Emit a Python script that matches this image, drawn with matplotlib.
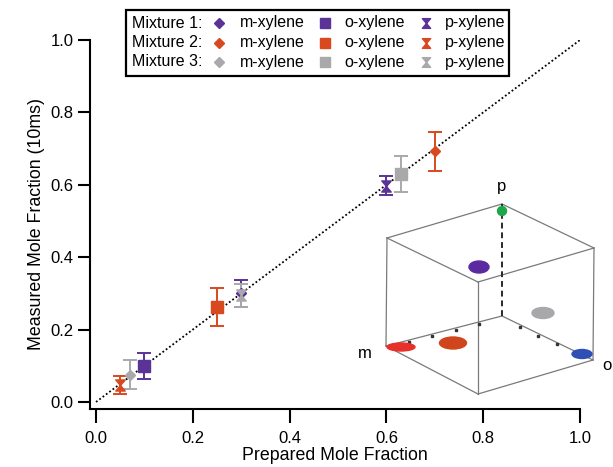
#!/usr/bin/env python3
import matplotlib
matplotlib.use("Agg")
import matplotlib.pyplot as plt
from matplotlib.path import Path
from matplotlib.patches import Ellipse, Rectangle

plt.rcParams["font.family"] = ["Liberation Sans", "DejaVu Sans"]

# data: prepared fraction, measured fraction, error (rows = mixtures, cols = species)
mixtures = ["Mixture 1:", "Mixture 2:", "Mixture 3:"]
species = ["m-xylene", "o-xylene", "p-xylene"]
colors = ["#5b3296", "#d8491f", "#a9a9ab"]

prepared = [
    [0.30, 0.10, 0.60],
    [0.70, 0.25, 0.05],
    [0.07, 0.63, 0.30],
]
measured = [
    [0.300, 0.100, 0.598],
    [0.692, 0.263, 0.047],
    [0.075, 0.630, 0.295],
]
errors = [
    [0.038, 0.036, 0.027],
    [0.055, 0.053, 0.025],
    [0.040, 0.050, 0.032],
]
xticks = [0.0, 0.2, 0.4, 0.6, 0.8, 1.0]
yticks = [0.0, 0.2, 0.4, 0.6, 0.8, 1.0]

# inset cube (figure pixel coordinates)
cube = {
    "tbl": (387, 238), "tbr": (502, 204), "tfr": (594, 248), "tfl": (478, 282),
    "bbl": (386, 346), "bbr": (502, 316), "bfr": (593, 360), "bfl": (478, 394),
}
cube_edges = [("tbl", "tbr"), ("tbr", "tfr"), ("tfr", "tfl"), ("tfl", "tbl"),
              ("tbl", "bbl"), ("tfl", "bfl"), ("tfr", "bfr"),
              ("bbl", "bfl"), ("bfl", "bfr"), ("bbl", "bbr"), ("bbr", "bfr")]
clusters = [
    # x, y, width, height, colour
    (502, 211, 9, 9, "#1fa64a"),
    (479, 267, 20, 12, "#5b2aa0"),
    (543, 313, 22, 11, "#a8a8aa"),
    (401, 347, 28, 8, "#e8302a"),
    (453, 343, 27, 12, "#d0461c"),
    (582, 354, 20, 9, "#2f4fb5"),
]
corner_labels = [("p", 502, 186), ("m", 365, 354), ("o", 607, 366)]
axis_ticks_m = [0.2, 0.4, 0.6, 0.8]
axis_ticks_o = [0.2, 0.4, 0.6, 0.8]

hourglass = Path([(-0.85, 1), (0.85, 1), (-0.85, -1), (0.85, -1), (-0.85, 1)],
                 [Path.MOVETO, Path.LINETO, Path.LINETO, Path.LINETO, Path.CLOSEPOLY])
markers = ["D", "s", hourglass]
msizes = [5.5, 8, 8]

fig = plt.figure(figsize=(6.13, 4.67), dpi=100)
ax = fig.add_axes([90 / 613, 58 / 467, 490 / 613, 369 / 467])

ax.plot([0, 1], [0, 1], color="black", linestyle=(0, (1, 1.3)), linewidth=1.3, zorder=1)

for i in range(3):
    for j in range(3):
        ax.errorbar(prepared[i][j], measured[i][j], yerr=errors[i][j],
                    marker=markers[j], markersize=msizes[j], color=colors[i],
                    ecolor=colors[i], elinewidth=1.4, capsize=5, capthick=1.4,
                    linestyle="none", zorder=3)

ax.set_xlim(-0.0124, 1.0)
ax.set_ylim(-0.0194, 1.0)
ax.set_xticks(xticks)
ax.set_yticks(yticks)
ax.set_xticklabels([f"{t:.1f}" for t in xticks])
ax.set_yticklabels([f"{t:.1f}" for t in yticks])
for s in ["top", "right"]:
    ax.spines[s].set_visible(False)
for s in ["left", "bottom"]:
    ax.spines[s].set_linewidth(1.5)
ax.tick_params(axis="x", direction="out", length=10, width=1.5, pad=6, labelsize=12)
ax.tick_params(axis="y", direction="out", length=9, width=1.5, pad=3, labelsize=12)
ax.set_xlabel("Prepared Mole Fraction", fontsize=12.8, labelpad=0.5)
ax.set_ylabel("Measured Mole Fraction (10ms)", fontsize=12.8, labelpad=4)

# overlay axes in pixel coordinates for the legend box and the inset cube
ov = fig.add_axes([0, 0, 1, 1], facecolor="none")
ov.set_xlim(0, 613)
ov.set_ylim(467, 0)
ov.axis("off")

# legend
leg_rows = [23, 42.5, 62]
leg_marker_x = [219, 325, 426]
leg_text_x = [240, 344, 445]
leg_msizes = [5, 7, 7]
ov.add_patch(Rectangle((126, 10), 383, 66, fill=False, edgecolor="black", linewidth=1.6))
for i, y in enumerate(leg_rows):
    ov.text(132, y, mixtures[i], fontsize=11.5, ha="left", va="center")
    for j in range(3):
        ov.plot(leg_marker_x[j], y, linestyle="none", marker=markers[j],
                markersize=leg_msizes[j], color=colors[i])
        ov.text(leg_text_x[j], y, species[j], fontsize=11.5, ha="left", va="center")

# inset cube
for a, b in cube_edges:
    (x0, y0), (x1, y1) = cube[a], cube[b]
    ov.plot([x0, x1], [y0, y1], color="#7a7a7a", linewidth=0.9)
(x0, y0), (x1, y1) = cube["bbr"], cube["tbr"]
ov.plot([x0, x1], [y0, y1], color="#2a2a2a", linewidth=1.4, linestyle=(0, (3, 2)))
for f in axis_ticks_m:
    (x0, y0), (x1, y1) = cube["bbl"], cube["bbr"]
    ov.plot(x0 + (x1 - x0) * f, y0 + (y1 - y0) * f + 2, marker="s",
            markersize=1.5, color="#333333")
for f in axis_ticks_o:
    (x0, y0), (x1, y1) = cube["bbr"], cube["bfr"]
    ov.plot(x0 + (x1 - x0) * f, y0 + (y1 - y0) * f + 2, marker="s",
            markersize=1.5, color="#333333")
for x, y, w, h, c in clusters:
    ov.add_patch(Ellipse((x, y), w, h, color=c, zorder=3))
for t, x, y in corner_labels:
    ov.text(x, y, t, fontsize=12, ha="center", va="center")

fig.savefig("out.png", dpi=100)
